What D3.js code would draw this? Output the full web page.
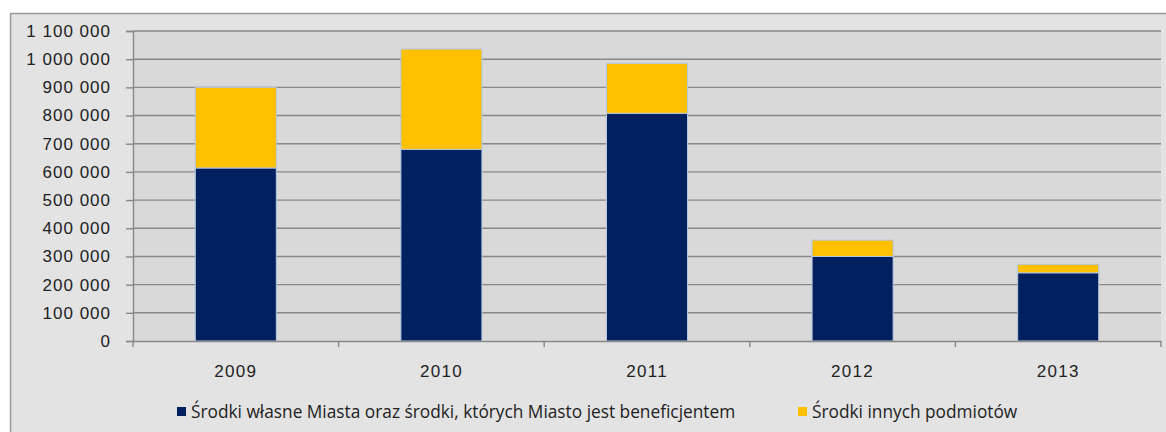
<!DOCTYPE html>
<html>
<head>
<meta charset="utf-8">
<script src="https://cdn.jsdelivr.net/npm/d3@7"></script>
<style>
  body { margin: 0; background: #fff; }
  svg { display: block; font-family: "Open Sans", "Noto Sans", sans-serif; }
</style>
</head>
<body>
<div id="chart"></div>
<script>
// Dane
const years = ["2009", "2010", "2011", "2012", "2013"];
const ownFunds = [614000, 680000, 808000, 300000, 242000];
const otherFunds = [286000, 356000, 177000, 58000, 30000];
const seriesNames = ["Środki własne Miasta oraz środki, których Miasto jest beneficjentem", "Środki innych podmiotów"];
const seriesColors = ["#00205f", "#ffc000"];
const yTicks = [0, 100000, 200000, 300000, 400000, 500000, 600000, 700000, 800000, 900000, 1000000, 1100000];

const W = 1166, H = 432;
const margin = { top: 31, right: 5, bottom: 91, left: 133 };
const width = W - margin.left - margin.right;
const height = H - margin.top - margin.bottom;

const root = d3.select("#chart").append("svg")
    .attr("width", W)
    .attr("height", H);

// Tło wykresu
root.append("rect")
    .attr("x", 10.5).attr("y", 13.5)
    .attr("width", W + 10).attr("height", H + 10)
    .attr("fill", "#e3e3e3")
    .attr("stroke", "#9a9a9a")
    .attr("stroke-width", 1.5);

const svg = root.append("g")
    .attr("transform", `translate(${margin.left}, ${margin.top})`);

const x = d3.scaleBand().domain(years).range([0, width]).paddingInner(0.606).paddingOuter(0.303);
const y = d3.scaleLinear().domain([0, 1100000]).range([height, 0]);

svg.append("rect")
    .attr("width", width).attr("height", height)
    .attr("fill", "#d9d9d9");

// Linie siatki
svg.selectAll(".grid")
    .data(yTicks.filter(d => d > 0))
    .enter().append("line")
    .attr("x1", 0).attr("x2", width)
    .attr("y1", d => y(d)).attr("y2", d => y(d))
    .attr("stroke", "#888")
    .attr("stroke-width", 1.4);

// Słupki
const stack = d3.stack().keys([0, 1])(years.map((yr, i) => ({ 0: ownFunds[i], 1: otherFunds[i], year: yr })));

svg.selectAll(".layer")
    .data(stack)
    .enter().append("g")
    .attr("fill", (d, i) => seriesColors[i])
    .selectAll("rect")
    .data(d => d)
    .enter().append("rect")
    .attr("x", d => x(d.data.year))
    .attr("y", d => y(d[1]))
    .attr("width", x.bandwidth())
    .attr("height", d => y(d[0]) - y(d[1]))
    .attr("stroke", "#b4c6e0")
    .attr("stroke-width", 1);

// Oś Y
const fmt = d => d3.format(",")(d).replace(/,/g, " ");
const yAxis = svg.append("g")
    .call(d3.axisLeft(y).tickValues(yTicks).tickFormat(fmt).tickSize(7).tickPadding(15));
yAxis.select(".domain").attr("stroke", "#888").attr("stroke-width", 1.4);
yAxis.selectAll(".tick line").attr("stroke", "#888").attr("stroke-width", 1.4);
yAxis.selectAll("text")
    .style("font-size", "17px")
    .style("letter-spacing", "1px")
    .attr("fill", "#222");

// Oś X
const xAxis = svg.append("g")
    .attr("transform", `translate(0, ${height})`)
    .call(d3.axisBottom(x).tickSize(0).tickPadding(24));
xAxis.select(".domain").attr("stroke", "#888").attr("stroke-width", 1.4);
xAxis.selectAll("text")
    .style("font-size", "17px")
    .style("letter-spacing", "1.3px")
    .attr("fill", "#222");

const step = x.step();
svg.append("g").selectAll("line")
    .data(d3.range(years.length + 1))
    .enter().append("line")
    .attr("x1", i => i * step).attr("x2", i => i * step)
    .attr("y1", height).attr("y2", height + 6)
    .attr("stroke", "#888")
    .attr("stroke-width", 1.4);

// Legenda
const legendX = [177, 798];
const legend = root.append("g").selectAll("g")
    .data(seriesNames)
    .enter().append("g")
    .attr("transform", (d, i) => `translate(${legendX[i]}, 412)`);
legend.append("rect")
    .attr("x", 0).attr("y", -5)
    .attr("width", 9).attr("height", 9)
    .attr("fill", (d, i) => seriesColors[i]);
legend.append("text")
    .attr("x", 14).attr("y", 0)
    .attr("dy", "0.35em")
    .style("font-size", "17.3px")
    .attr("fill", "#222")
    .text(d => d);
</script>
</body>
</html>
